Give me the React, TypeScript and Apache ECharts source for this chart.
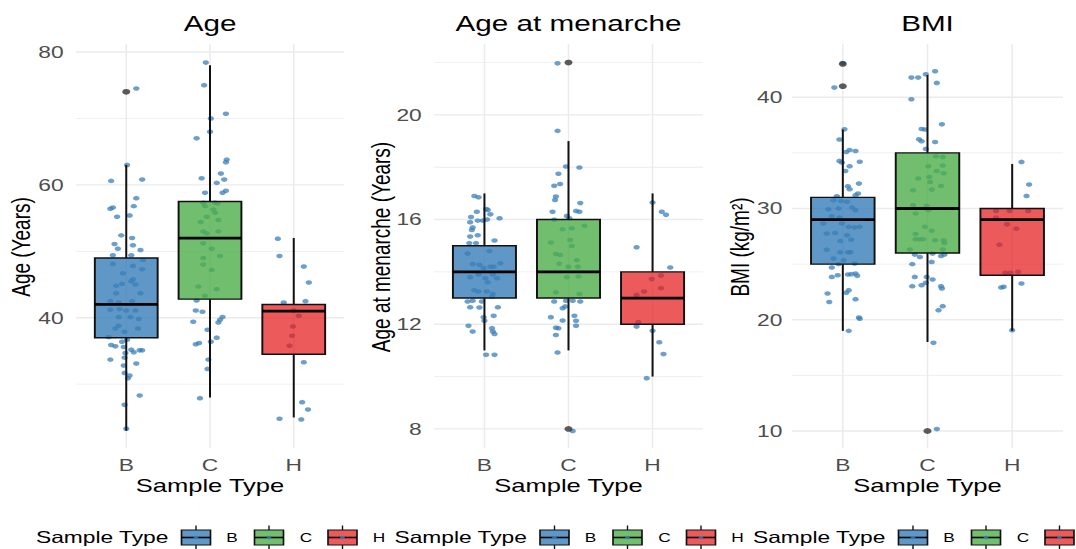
import React, { useEffect, useRef } from "react";
import * as echarts from "echarts";

// ---------- data ----------
const categories = ["B", "C", "H"];
const panelTitles = ["Age", "Age at menarche", "BMI"];
const yAxisTitles = ["Age (Years)", "Age at menarche (Years)", "BMI (kg/m²)"];
const xAxisTitle = "Sample Type";
const legendTitle = "Sample Type";

// box statistics per category: [lower whisker, Q1, median, Q3, upper whisker]
const ageBox = [[23, 37, 42, 49, 63], [28, 42.8, 52, 57.5, 78], [25, 34.5, 41, 42, 52]];
const menBox = [[11, 13, 14, 15, 17], [11, 13, 14, 16, 19], [10, 12, 13, 14, 17]];
const bmiBox = [[19, 25, 29, 31, 37.1], [18, 26, 30, 35, 42], [19, 24, 29, 30, 34]];

// outliers: [category position, value]
const ageOutliers = [[1, 74]];
const menOutliers = [[2, 22], [2, 8]];
const bmiOutliers = [[1, 43], [1, 41], [2, 10]];

// axis ranges and tick labels
const ageRange = [20.4, 81.2];
const menRange = [7.27, 22.71];
const bmiRange = [8.47, 44.79];
const ageTicks = [40, 60, 80];
const ageMinor = [30, 50, 70];
const menTicks = [8, 12, 16, 20];
const menMinor = [10, 14, 18, 22];
const bmiTicks = [10, 20, 30, 40];
const bmiMinor = [15, 25, 35];

// jittered points: [horizontal jitter offset, value]
const ageB = [
  [0.12, 74.5], [0.01, 63], [-0.18, 60.6], [0.19, 60.8], [0.12, 58], [-0.19, 56.4], [-0.16, 56.6], [0.09, 56.8],
  [-0.11, 55.2], [0.04, 55.4], [-0.06, 52.4], [0.07, 52], [-0.14, 51.1], [0.08, 50.9], [-0.1, 50.4], [0.17, 50.2],
  [-0.16, 49.4], [0.06, 49.4], [0.2, 48.7], [-0.16, 48.1], [0.08, 47.8], [0.19, 47.3], [-0.04, 46.7], [0.08, 45.8],
  [0.11, 45.0], [-0.12, 44.8], [-0.05, 45.1], [0.06, 45.5], [-0.12, 43.7], [0.17, 43.7], [-0.19, 42.5], [-0.09, 42.3],
  [0.07, 42.5], [-0.19, 41.2], [-0.08, 41.3], [0, 41.1], [0.11, 41.1], [-0.09, 40.1], [0.05, 40.1], [0.15, 39.8],
  [-0.13, 38.4], [-0.02, 37.9], [-0.09, 38.8], [0.14, 38.4], [-0.21, 37.1], [-0.05, 36.4], [0.01, 36.7], [-0.18, 35.9],
  [-0.13, 35.7], [-0.03, 35.6], [0.06, 35.2], [0.09, 34.8], [0.19, 35.1], [0.16, 35.1], [-0.01, 34.7], [-0.02, 34.0],
  [-0.19, 33.7], [0.12, 33.1], [-0.03, 32.8], [-0.02, 31.7], [0.04, 31.3], [0.02, 30.9], [0.16, 28.3], [-0.02, 26.9],
  [0, 23.3],
];
const ageC = [
  [-0.05, 78.4], [-0.07, 75.0], [0.19, 70.7], [0.01, 70.0], [-0.16, 67.0], [0, 68.0], [0.2, 63.8], [0.19, 63.4],
  [-0.1, 61.0], [0.13, 61.7], [0.17, 60.8], [0.08, 60.3], [-0.06, 58.8], [0.19, 59.1], [0.15, 58.8], [-0.08, 57.3],
  [0.06, 57.3], [0.09, 57.2], [-0.06, 56.8], [0.04, 56.3], [0.06, 55.8], [-0.04, 55.2], [-0.11, 54.4], [0.1, 54.7],
  [-0.08, 53.0], [0.1, 53.0], [-0.04, 52.7], [-0.08, 51.2], [0.02, 50.4], [-0.08, 49.0], [0.12, 49.3], [-0.08, 48.0],
  [0.02, 47.2], [-0.14, 44.7], [0.08, 44.3], [-0.06, 43.3], [-0.16, 42.6], [-0.17, 41.1], [-0.09, 40.9], [0.15, 40.1],
  [0.12, 39.7], [0.1, 39.3], [-0.2, 39.4], [-0.03, 38.2], [0.08, 37.0], [0.01, 36.4], [-0.17, 36.0], [-0.13, 36.2],
  [-0.02, 33.7], [-0.03, 32.3], [-0.12, 27.9],
];
const ageH = [
  [-0.19, 51.9], [-0.17, 49.3], [0.12, 47.7], [0.18, 45.3], [-0.12, 42.3], [0.14, 42.5], [0, 41.1], [0.06, 40.3],
  [-0.01, 38.7], [-0.02, 37.3], [-0.05, 35.8], [0.12, 33.3], [0.1, 27.3], [0.17, 26.2], [-0.17, 24.8], [0.09, 24.7],
];

const menB = [
  [-0.12, 16.9], [-0.07, 16.85], [0.02, 16.4], [0.04, 16.37], [-0.09, 16.3], [0.07, 16.2], [-0.16, 16.1], [0.18, 16.05],
  [-0.17, 15.9], [-0.08, 15.96], [-0.02, 15.96], [0.03, 16.0], [-0.14, 15.7], [-0.15, 15.6], [-0.17, 15.35], [-0.08, 15.4],
  [0.12, 15.2], [-0.18, 15.1], [-0.1, 15.1], [-0.2, 14.7], [0.06, 14.8], [0.19, 14.33], [-0.14, 14.3], [-0.06, 14.27],
  [0.07, 14.2], [-0.01, 14.15], [0.11, 14.2], [-0.17, 13.8], [-0.07, 13.9], [0.01, 13.76], [0.1, 13.9], [0.15, 13.76],
  [0.04, 13.6], [-0.12, 13.3], [-0.07, 13.25], [0.03, 13.25], [0.1, 13.16], [-0.2, 12.87], [-0.14, 12.9], [-0.03, 12.87],
  [0.09, 13.06], [-0.17, 12.65], [-0.06, 12.64], [0.16, 12.65], [-0.01, 12.27], [0.11, 12.32], [0, 12.13], [-0.19, 11.94],
  [0.09, 11.85], [-0.14, 11.72], [0.1, 11.72], [0.12, 11.63], [0.02, 10.83], [0.12, 10.83],
];
const menC = [
  [-0.13, 21.97], [-0.13, 19.39], [-0.03, 18.03], [0.13, 17.99], [-0.12, 17.75], [-0.17, 17.29], [-0.1, 17.36], [-0.15, 16.88],
  [-0.16, 16.75], [0.14, 16.63], [-0.19, 16.3], [0.09, 16.33], [0.13, 16.3], [-0.02, 16.14], [0.01, 16.05], [-0.17, 15.99],
  [-0.07, 15.63], [0.19, 15.76], [0.04, 15.67], [-0.21, 15.12], [0.02, 15.22], [0.04, 14.99], [-0.1, 14.65], [-0.15, 14.68],
  [0.1, 14.45], [-0.11, 14.31], [0, 14.2], [0.11, 14.2], [-0.02, 13.8], [0.12, 13.82], [-0.15, 13.22], [0.13, 13.16],
  [-0.17, 12.87], [-0.03, 12.9], [0.05, 12.9], [0.14, 12.87], [-0.07, 12.61], [-0.04, 12.68], [0.07, 12.32], [-0.21, 12.27],
  [-0.07, 12.14], [0.09, 12.13], [0.09, 11.94], [-0.15, 11.87], [-0.12, 11.85], [-0.15, 11.59], [-0.13, 10.92], [0.05, 7.92],
];
const menH = [
  [0, 16.65], [0.11, 16.3], [0.16, 16.18], [-0.19, 14.94], [0.21, 14.17], [0.1, 13.86], [-0.01, 13.73], [0.1, 13.38],
  [-0.1, 13.25], [-0.19, 13.12], [-0.17, 12.08], [-0.19, 11.91], [0, 11.75], [0.08, 11.31], [0.13, 10.86], [-0.07, 9.94],
];

const bmiB = [
  [0, 43.08], [-0.1, 40.87], [0.02, 37.12], [-0.04, 36.2], [0.04, 35.08], [0.08, 35.26], [0.15, 35.17], [-0.04, 34.28],
  [-0.01, 34.13], [0.2, 34.2], [0.08, 33.8], [0.03, 33.37], [0.06, 32.0], [0.19, 32.24], [0.08, 31.73], [0.18, 31.35],
  [0.15, 31.2], [-0.07, 31.1], [-0.11, 30.75], [-0.02, 30.68], [0.05, 30.6], [-0.17, 29.94], [-0.05, 30.0], [0.11, 30.1],
  [0.15, 29.85], [-0.13, 29.3], [-0.04, 29.2], [-0.23, 28.65], [0.07, 28.35], [0.14, 28.3], [0.2, 28.35], [-0.01, 28.65],
  [-0.19, 27.75], [-0.09, 27.8], [0.05, 27.6], [-0.03, 27.09], [0.1, 27.2], [-0.19, 26.3], [-0.03, 26.07], [0.06, 26.07],
  [0.09, 26.07], [-0.11, 25.5], [0.01, 25.35], [-0.13, 24.7], [-0.05, 25.0], [0.14, 25.06], [-0.13, 23.85], [-0.06, 24.0],
  [0.06, 24.07], [0.15, 24.16], [0.1, 24.1], [0.17, 23.95], [0.07, 22.66], [-0.18, 22.36], [0.04, 22.42], [0.15, 21.85],
  [-0.16, 21.6], [0.19, 20.2], [0.2, 20.1], [0.07, 19.0],
];
const bmiC = [
  [0.09, 42.34], [-0.02, 42.07], [-0.19, 41.77], [-0.11, 41.77], [0.11, 41.29], [-0.19, 39.82], [0.17, 37.57], [-0.07, 37.15],
  [-0.03, 37.1], [-0.1, 36.23], [-0.07, 36.05], [0.09, 35.98], [-0.02, 35.36], [0.1, 34.7], [0.18, 34.64], [0.01, 33.8],
  [0.18, 33.86], [0.11, 33.37], [0.19, 33.17], [-0.11, 32.7], [0.02, 32.84], [0.03, 32.39], [0.16, 32.03], [-0.17, 31.64],
  [0.05, 31.7], [-0.17, 30.3], [-0.01, 30.24], [-0.14, 29.55], [0.01, 29.85], [-0.14, 27.7], [-0.03, 28.36], [0.05, 28.0],
  [-0.14, 27.24], [-0.09, 27.24], [-0.05, 27.24], [0.09, 27.15], [0.19, 27.15], [0.2, 26.9], [-0.21, 26.31], [0.18, 26.31],
  [-0.15, 25.86], [-0.09, 25.65], [0.06, 25.95], [0.16, 25.74], [0.2, 25.86], [-0.18, 25.0], [0.05, 25.2], [-0.15, 23.85],
  [-0.01, 23.85], [0.06, 23.62], [-0.18, 23.02], [-0.07, 23.11], [-0.02, 23.32], [0.16, 23.02], [0.17, 22.81], [0.13, 20.86],
  [0.18, 21.22], [0.07, 17.93], [0.11, 10.17],
];
const bmiH = [
  [0.11, 34.19], [0.2, 32.16], [0.17, 31.13], [-0.19, 29.78], [-0.03, 29.78], [0.19, 29.78], [-0.19, 29.18], [-0.06, 28.58],
  [0.05, 28.19], [-0.15, 26.75], [-0.08, 24.22], [-0.02, 24.22], [0.07, 24.31], [-0.13, 22.9], [-0.1, 22.96], [0.11, 23.26],
  [0, 19.06],
];

// ---------- styling / layout ----------
const S = 1.38; // horizontal stretch of the picture
const W = 1076;
const H = 549;
const px = (x: number) => x / S;
const FONT = "'Liberation Sans', Arial, Helvetica, sans-serif";
const boxFills = ["rgba(55,126,184,0.8)", "rgba(77,175,74,0.8)", "rgba(228,26,28,0.72)"];
const pointColor = "rgba(55,126,184,0.92)";
const gridColor = "#EBEBEB";
const STROKE = "#111111";

const panels = [
  { box: ageBox, out: ageOutliers, range: ageRange, ticks: ageTicks, minor: ageMinor, pts: [ageB, ageC, ageH], left: 76, width: 268, labelMargin: 12.4 },
  { box: menBox, out: menOutliers, range: menRange, ticks: menTicks, minor: menMinor, pts: [menB, menC, menH], left: 434, width: 269, labelMargin: 12.3 },
  { box: bmiBox, out: bmiOutliers, range: bmiRange, ticks: bmiTicks, minor: bmiMinor, pts: [bmiB, bmiC, bmiH], left: 792, width: 271, labelMargin: 9.6 },
];
const GRID_TOP = 44;
const GRID_H = 404;

function buildOption() {
  const grid: any[] = [];
  const xAxis: any[] = [];
  const yAxis: any[] = [];
  const series: any[] = [];
  const graphic: any[] = [];

  panels.forEach((p, i) => {
    grid.push({ left: px(p.left), top: GRID_TOP, width: px(p.width), height: GRID_H, containLabel: false });
    xAxis.push({
      type: "value", gridIndex: i, min: 0.4, max: 3.6,
      axisLine: { show: false }, axisTick: { show: false }, splitLine: { show: false },
      axisLabel: {
        customValues: [1, 2, 3],
        formatter: (v: number) => categories[Math.round(v) - 1] ?? "",
        color: "#4D4D4D", fontSize: 16.5, fontFamily: FONT, margin: 9,
      },
    });
    yAxis.push({
      type: "value", gridIndex: i, min: p.range[0], max: p.range[1],
      axisLine: { show: false }, axisTick: { show: false }, splitLine: { show: false },
      axisLabel: {
        customValues: p.ticks,
        color: "#4D4D4D", fontSize: 16.5, fontFamily: FONT, margin: px(p.labelMargin),
      },
    });

    // grid lines
    const gridData: number[][] = [
      ...p.ticks.map((v) => [0, v, 1]),
      ...p.minor.map((v) => [0, v, 0]),
      ...[1, 2, 3].map((c) => [1, c, 1]),
    ];
    const [ymin, ymax] = p.range;
    series.push({
      type: "custom", xAxisIndex: i, yAxisIndex: i, z: 1, silent: true,
      data: gridData,
      encode: { x: 1, y: 1 },
      renderItem: (params: any, api: any) => {
        const kind = api.value(0);
        const v = api.value(1);
        const major = api.value(2);
        let a, b;
        if (kind === 0) {
          a = api.coord([0.4, v]);
          b = api.coord([3.6, v]);
        } else {
          a = api.coord([v, ymin]);
          b = api.coord([v, ymax]);
        }
        return {
          type: "line",
          shape: { x1: a[0], y1: a[1], x2: b[0], y2: b[1] },
          style: { stroke: gridColor, lineWidth: kind === 1 ? 1.1 : major ? 1.4 : 0.8 },
        };
      },
    });

    // jittered points
    const pts: number[][] = [];
    p.pts.forEach((arr, k) => arr.forEach(([dx, v]) => pts.push([k + 1 + dx, v])));
    series.push({
      type: "scatter", xAxisIndex: i, yAxisIndex: i, z: 2, silent: true,
      symbolSize: 4.6, itemStyle: { color: pointColor }, data: pts,
    });

    // boxes
    series.push({
      type: "custom", xAxisIndex: i, yAxisIndex: i, z: 3, silent: true,
      data: p.box.map((s, k) => [k + 1, ...s]),
      encode: { x: 0, y: [1, 2, 3, 4, 5] },
      renderItem: (params: any, api: any) => {
        const x = api.value(0);
        const idx = params.dataIndex;
        const lo = api.coord([x, api.value(1)]);
        const q1 = api.coord([x, api.value(2)]);
        const med = api.coord([x, api.value(3)]);
        const q3 = api.coord([x, api.value(4)]);
        const hi = api.coord([x, api.value(5)]);
        const hw = api.size([0.75, 0])[0] / 2;
        const cx = lo[0];
        return {
          type: "group",
          children: [
            { type: "line", shape: { x1: cx, y1: hi[1], x2: cx, y2: q3[1] }, style: { stroke: STROKE, lineWidth: 1.45 } },
            { type: "line", shape: { x1: cx, y1: q1[1], x2: cx, y2: lo[1] }, style: { stroke: STROKE, lineWidth: 1.45 } },
            {
              type: "rect",
              shape: { x: cx - hw, y: q3[1], width: 2 * hw, height: q1[1] - q3[1] },
              style: { fill: boxFills[idx], stroke: STROKE, lineWidth: 1.4 },
            },
            { type: "line", shape: { x1: cx - hw, y1: med[1], x2: cx + hw, y2: med[1] }, style: { stroke: "#000", lineWidth: 2.8 } },
          ],
        };
      },
    });

    // outliers
    series.push({
      type: "scatter", xAxisIndex: i, yAxisIndex: i, z: 4, silent: true,
      symbolSize: 5.8, itemStyle: { color: "#333333" }, data: p.out,
    });

    // titles
    const centerPage = p.left + p.width / 2;
    graphic.push({
      type: "text", x: px(centerPage), y: 24,
      style: { text: panelTitles[i], fill: "#000", font: `21.5px ${FONT}`, textAlign: "center", textVerticalAlign: "middle" },
    });
    graphic.push({
      type: "text", x: px(centerPage), y: 485.5,
      style: { text: xAxisTitle, fill: "#000", font: `18.5px ${FONT}`, textAlign: "center", textVerticalAlign: "middle" },
    });
    const yTitleX = [21, 381, 740][i];
    graphic.push({
      type: "text", x: px(yTitleX), y: 247, rotation: Math.PI / 2,
      style: { text: yAxisTitles[i], fill: "#000", font: `19px ${FONT}`, textAlign: "center", textVerticalAlign: "middle" },
    });
  });

  // legends
  const glyphCenters = [196, 269, 342.5];
  const labelCenters = [232, 306, 379];
  for (let g = 0; g < 3; g++) {
    const off = g * 358.5;
    graphic.push({
      type: "text", x: px(36 + off), y: 537.5,
      style: { text: legendTitle, fill: "#000", font: `16.5px ${FONT}`, textAlign: "left", textVerticalAlign: "middle" },
    });
    for (let k = 0; k < 3; k++) {
      const cxp = glyphCenters[k] + off;
      if (cxp - 15 > W) continue;
      const cx = px(cxp);
      const hw = px(14.5);
      graphic.push({ type: "line", shape: { x1: cx, y1: 525.5, x2: cx, y2: 530 }, style: { stroke: STROKE, lineWidth: 1 } });
      graphic.push({ type: "line", shape: { x1: cx, y1: 545, x2: cx, y2: 549 }, style: { stroke: STROKE, lineWidth: 1 } });
      graphic.push({
        type: "rect", shape: { x: cx - hw, y: 530, width: 2 * hw, height: 15 },
        style: { fill: boxFills[k], stroke: STROKE, lineWidth: 1.2 },
      });
      graphic.push({ type: "line", shape: { x1: cx - hw, y1: 537.5, x2: cx + hw, y2: 537.5 }, style: { stroke: "#000", lineWidth: 1.6 } });
      graphic.push({ type: "circle", shape: { cx, cy: 537.5, r: 1.8 }, style: { fill: "rgba(55,126,184,0.85)" } });
      const lx = labelCenters[k] + off;
      if (lx + 6 < W) {
        graphic.push({
          type: "text", x: px(lx), y: 537.5,
          style: { text: categories[k], fill: "#000", font: `12.5px ${FONT}`, textAlign: "center", textVerticalAlign: "middle" },
        });
      }
    }
  }

  return {
    animation: false,
    backgroundColor: "#FFFFFF",
    grid, xAxis, yAxis, series, graphic,
  };
}

export default function App() {
  const ref = useRef<HTMLDivElement>(null);
  useEffect(() => {
    if (!ref.current) return;
    const chart = echarts.init(ref.current, null, { renderer: "svg" });
    chart.setOption(buildOption() as any);
    return () => chart.dispose();
  }, []);
  return (
    <div style={{ position: "fixed", left: 0, top: 0, width: W, height: H, overflow: "hidden", background: "#fff" }}>
      <div
        ref={ref}
        style={{
          position: "absolute", left: 0, top: 0, width: W / S, height: H,
          transform: `scaleX(${S})`, transformOrigin: "0 0",
        }}
      />
    </div>
  );
}
